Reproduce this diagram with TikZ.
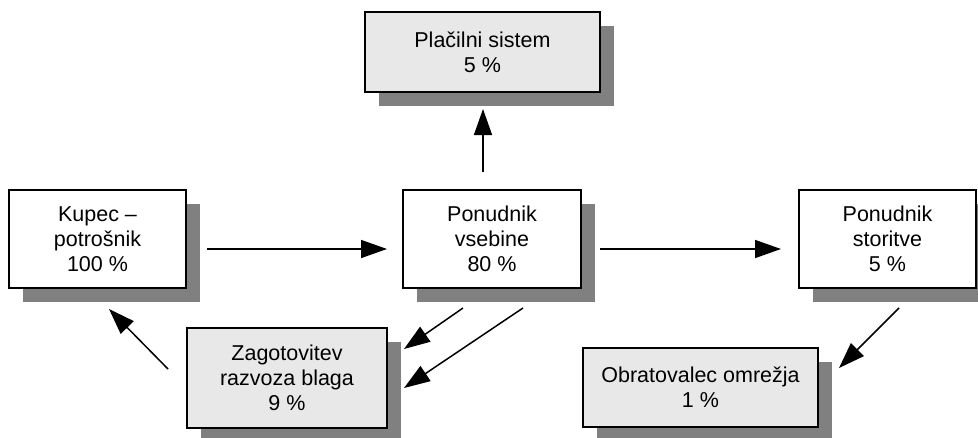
\documentclass[tikz,border=0pt]{standalone}
\usepackage{fontspec}
\setmainfont{Liberation Sans}
\usetikzlibrary{arrows.meta,shadows}
\definecolor{boxgray}{HTML}{E8E8E8}
\definecolor{shadowgray}{HTML}{808080}
\begin{document}
\begin{tikzpicture}[x=1pt,y=-1pt,
  boxnode/.style={draw=black, line width=1.3pt, fill=white, align=center, inner sep=0pt,
    font=\fontsize{21.5}{25}\selectfont,
    drop shadow={shadow xshift=14pt, shadow yshift=-14pt, fill=shadowgray, opacity=1}},
  graybox/.style={boxnode, fill=boxgray},
  conn/.style={line width=1.5pt, -{Triangle[length=26pt,width=18pt]}}]
\useasboundingbox (0,0) rectangle (978,437);
\node[graybox, minimum width=235pt, minimum height=80pt] (plac) at (482.5,52) {Plačilni sistem\\5 \%};
\node[boxnode, minimum width=177pt, minimum height=98pt] (kupec) at (97.5,239) {Kupec –\\potrošnik\\100 \%};
\node[boxnode, minimum width=178pt, minimum height=98pt] (vseb) at (492,239) {Ponudnik\\vsebine\\80 \%};
\node[boxnode, minimum width=177pt, minimum height=98pt] (stor) at (887.5,239) {Ponudnik\\storitve\\5 \%};
\node[graybox, minimum width=200pt, minimum height=100pt] (zag) at (287,378) {Zagotovitev\\razvoza blaga\\9 \%};
\node[graybox, minimum width=235pt, minimum height=79pt] (obr) at (700.5,387.5) {Obratovalec omrežja\\1 \%};
\coordinate (a1s) at (207,249); \coordinate (a1e) at (387,249);
\coordinate (a2s) at (600,249); \coordinate (a2e) at (781,249);
\coordinate (a3s) at (483,172); \coordinate (a3e) at (483,109);
\coordinate (a4s) at (168,369); \coordinate (a4e) at (109,309);
\coordinate (a5s) at (463,308); \coordinate (a5e) at (404,349);
\coordinate (a6s) at (523,308); \coordinate (a6e) at (404,388);
\coordinate (a7s) at (899,308); \coordinate (a7e) at (839,368);
\draw[conn] (a1s) -- (a1e);
\draw[conn] (a2s) -- (a2e);
\draw[conn] (a3s) -- (a3e);
\draw[conn] (a4s) -- (a4e);
\draw[conn] (a5s) -- (a5e);
\draw[conn] (a6s) -- (a6e);
\draw[conn] (a7s) -- (a7e);
\end{tikzpicture}
\end{document}
